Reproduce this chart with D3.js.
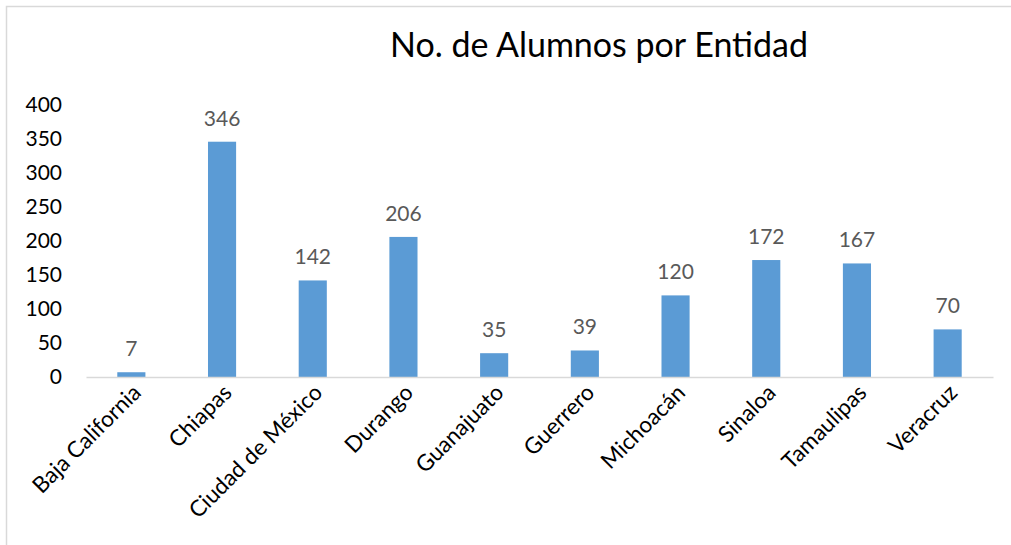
<!DOCTYPE html>
<html>
<head>
<meta charset="utf-8">
<script src="https://cdn.jsdelivr.net/npm/d3@7"></script>
<style>
  body { margin: 0; background: #fff; }
  svg, svg text { font-family: Lato, "Open Sans", sans-serif; }
</style>
</head>
<body>
<svg width="1011" height="545"></svg>
<script>
// data
var entidades = ["Baja California", "Chiapas", "Ciudad de México", "Durango", "Guanajuato",
                 "Guerrero", "Michoacán", "Sinaloa", "Tamaulipas", "Veracruz"];
var alumnos = [7, 346, 142, 206, 35, 39, 120, 172, 167, 70];
var yTicks = [0, 50, 100, 150, 200, 250, 300, 350, 400];

const svg    = d3.select("svg"),
      margin = {top: 105, left: 86, right: 18, bottom: 168},
      width  = +svg.attr("width")  - margin.left - margin.right,
      height = +svg.attr("height") - margin.top  - margin.bottom,
      x      = d3.scaleBand().domain(entidades).range([0, width]).paddingInner(0.69).paddingOuter(0.345),
      y      = d3.scaleLinear().domain([0, 400]).range([height, 0]),
      g      = svg.append("g").attr("transform", `translate(${margin.left},${margin.top})`);

// chart frame (only top and left edges visible)
svg.append("path")
    .attr("d", "M6.5,545 V6.5 H1011")
    .attr("fill", "none")
    .attr("stroke", "#d9d9d9")
    .attr("stroke-width", 1.5);

svg.append("text")
    .attr("x", 599)
    .attr("y", 57)
    .attr("text-anchor", "middle")
    .style("font-size", "34px")
    .style("fill", "#000")
    .text("No. de Alumnos por Entidad");

// y axis: labels only
const yAxis = g.append("g")
    .call(d3.axisLeft(y).tickValues(yTicks).tickSize(0).tickPadding(24));
yAxis.attr("font-family", null);
yAxis.select(".domain").remove();
yAxis.selectAll("text").style("font-size", "21px").style("fill", "#000");

g.selectAll(".bar")
  .data(alumnos)
  .enter().append("rect")
    .attr("class", "bar")
    .attr("x", (d, i) => x(entidades[i]))
    .attr("y", d => y(d))
    .attr("width", x.bandwidth())
    .attr("height", d => height - y(d))
    .attr("fill", "#5b9bd5");

g.selectAll(".lbl")
  .data(alumnos)
  .enter().append("text")
    .attr("class", "lbl")
    .attr("x", (d, i) => x(entidades[i]) + x.bandwidth() / 2)
    .attr("y", d => y(d) - 16)
    .attr("text-anchor", "middle")
    .style("font-size", "21px")
    .style("fill", "#595959")
    .text(d => d);

// x axis
const xAxis = g.append("g")
    .attr("transform", `translate(0,${height})`)
    .call(d3.axisBottom(x).tickSize(0).tickPadding(0));
xAxis.attr("font-family", null);
xAxis.select(".domain").attr("stroke", "#d9d9d9").attr("stroke-width", 1.5);
xAxis.selectAll("text")
    .style("font-size", "22.5px")
    .style("fill", "#000")
    .attr("text-anchor", "end")
    .attr("dy", 0)
    .attr("transform", "translate(11,17) rotate(-45)");
</script>
</body>
</html>
